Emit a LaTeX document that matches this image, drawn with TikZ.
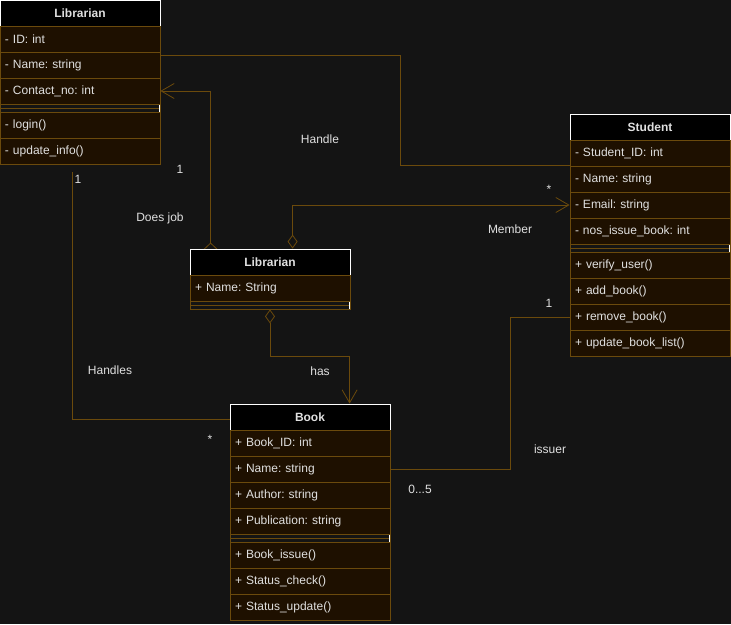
\documentclass[tikz,border=0pt]{standalone}
\usepackage{fontspec}
\setmainfont{Liberation Sans}
\frenchspacing
\usetikzlibrary{positioning}
\usetikzlibrary{arrows.meta}
\usetikzlibrary{backgrounds}

\definecolor{bgdark}{HTML}{141414}
\definecolor{umlbrown}{HTML}{6B4A0C}
\definecolor{rowfill}{HTML}{1E1000}
\definecolor{txtgray}{HTML}{E0E0E0}

\begin{document}
\begin{tikzpicture} [
    x=1pt, y=1pt,
    font=\fontsize{12}{14}\selectfont,
      head/.style    = { rectangle, draw=white, fill=black, text=txtgray,
                        font=\fontsize{12}{14}\selectfont\bfseries,
                        minimum width=160pt, minimum height=26pt, inner sep=0pt, line width=0.8pt },
      row/.style     = { rectangle, draw=umlbrown, fill=rowfill, text=txtgray,
                        text width=150pt, inner xsep=5pt, inner ysep=0pt,
                        minimum height=26pt, align=left, line width=0.8pt },
      sep/.style     = { rectangle, draw=umlbrown, fill=bgdark, minimum width=160pt,
                        minimum height=8pt, inner sep=0pt, line width=0.8pt,
                        path picture={
                          \draw[umlbrown, line width=0.8pt]
                          (path picture bounding box.west) -- (path picture bounding box.east);
                          \draw[white, line width=1.6pt]
                          (path picture bounding box.south west) -- (path picture bounding box.north west)
                          (path picture bounding box.south east) -- (path picture bounding box.north east);} },
    link/.style     = { draw=umlbrown, line width=0.8pt },
    aggr/.style     = { {Diamond[open,length=14pt,width=10pt]}-{Straight Barb[length=13pt,width=15pt]} },
    djob/.style     = { {Diamond[open,length=14pt,width=15pt]}-{Straight Barb[length=13pt,width=15pt]} },
    etiq/.style = { text=txtgray },
    node distance=26pt,
  ]
\useasboundingbox (0,0) rectangle (731,-624);
\begin{pgfonlayer}{background}
\fill[bgdark] (0,0) rectangle (731,-624);
\end{pgfonlayer}

% Librarian (top left)
\node (lbHead) [head] at (80,-13) {Librarian};
\node (lbId) [row,below of = lbHead]{- ID: int};
\node (lbName) [row,below of = lbId]{- Name: string};
\node (lbCont) [row,below of = lbName]{- Contact\_no: int};
\node (lbSep) [sep,below of = lbCont,yshift=+9pt]{};
\node (lbLogin) [row,below of = lbSep,yshift=+9pt]{- login()};
\node (lbUpd) [row,below of = lbLogin]{- update\_info()};

% Student
\node (stHead) [head] at (650,-127) {Student};
\node (stId) [row,below of = stHead]{- Student\_ID: int};
\node (stName) [row,below of = stId]{- Name: string};
\node (stEmail) [row,below of = stName]{- Email: string};
\node (stIssue) [row,below of = stEmail]{- nos\_issue\_book: int};
\node (stSep) [sep,below of = stIssue,yshift=+9pt]{};
\node (stVerify) [row,below of = stSep,yshift=+9pt]{+ verify\_user()};
\node (stAdd) [row,below of = stVerify]{+ add\_book()};
\node (stRemove) [row,below of = stAdd]{+ remove\_book()};
\node (stUpdate) [row,below of = stRemove]{+ update\_book\_list()};

% Librarian (middle)
\node (lb2Head) [head] at (270,-262) {Librarian};
\node (lb2Name) [row,below of = lb2Head]{+ Name: String};
\node (lb2Sep) [sep,below of = lb2Name,yshift=+9pt]{};

% Book
\node (bkHead) [head] at (310,-417) {Book};
\node (bkId) [row,below of = bkHead]{+ Book\_ID: int};
\node (bkName) [row,below of = bkId]{+ Name: string};
\node (bkAuthor) [row,below of = bkName]{+ Author: string};
\node (bkPub) [row,below of = bkAuthor]{+ Publication: string};
\node (bkSep) [sep,below of = bkPub,yshift=+9pt]{};
\node (bkIssue) [row,below of = bkSep,yshift=+9pt]{+ Book\_issue()};
\node (bkCheck) [row,below of = bkIssue]{+ Status\_check()};
\node (bkStat) [row,below of = bkCheck]{+ Status\_update()};

% labels
\node (lHandle) [etiq] at (320,-139) {Handle};
\node (lOneA) [etiq] at (180,-169) {1};
\node (lDoes) [etiq] at (160,-218) {Does job};
\node (lOneB) [etiq] at (78,-179) {1};
\node (lHandles) [etiq] at (110,-370) {Handles};
\node (lStarA) [etiq] at (210,-439) {*};
\node (lMember) [etiq] at (510,-229) {Member};
\node (lStarB) [etiq] at (549,-189) {*};
\node (lHas) [etiq] at (320,-371) {has};
\node (lOneC) [etiq] at (549,-303) {1};
\node (lIssuer) [etiq] at (550,-449) {issuer};
\node (lRange) [etiq] at (420,-489) {0...5};

\begin{pgfonlayer}{background}
\begin{scope}[every path/.style=link]
\path ([xshift=-2pt,yshift=10pt]lbName.east) -- ++(242,0) |- (stName.north west);
\path[djob] ([xshift=21pt,yshift=-8pt]lb2Head.north west) |- (lbCont.east);
\path[aggr] ([xshift=103pt]lb2Head.north west) |- (stEmail.west);
\path[aggr] (lb2Sep.south) -- ++(0,-47) -| ([xshift=120pt]bkHead.north west);
\path ([xshift=73pt,yshift=-8pt]lbUpd.south west) |- ([yshift=-2pt]bkHead.west);
\path (bkName.east) -- ++(120,0) |- (stRemove.west);
\end{scope}
\end{pgfonlayer}

\end{tikzpicture}
\end{document}
